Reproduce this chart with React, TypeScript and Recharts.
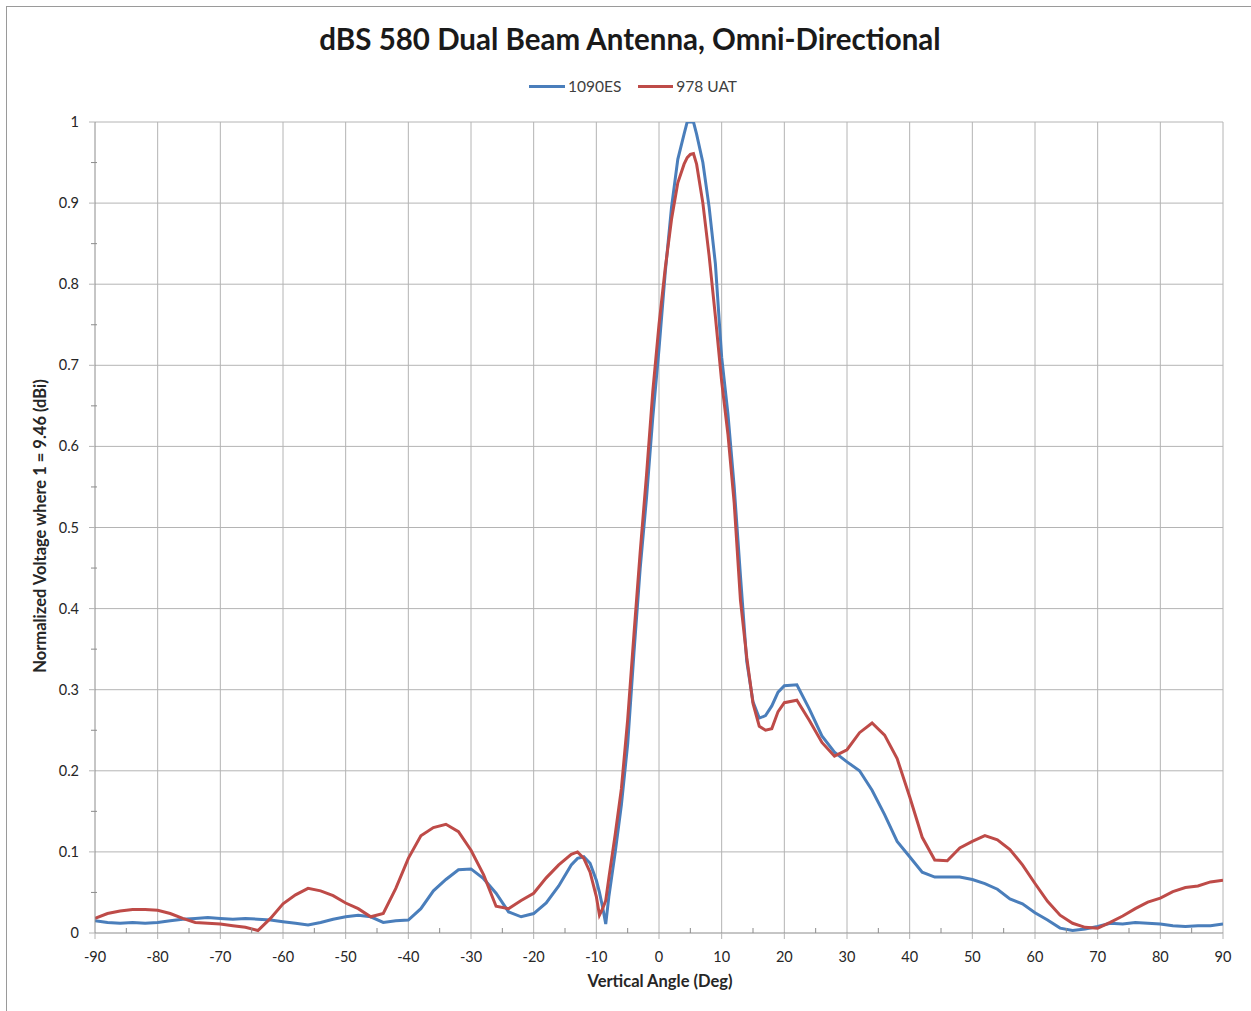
import React from "react";
import { LineChart, Line, XAxis, YAxis, CartesianGrid } from "recharts";

const angles = [
  -90, -88, -86, -84, -82, -80, -78, -76, -74, -72, -70, -68, -66, -64, -62, -60, -58, -56, -54, -52,
  -50, -48, -46, -44, -42, -40, -38, -36, -34, -32, -30, -28, -26, -24, -22, -20, -18, -16, -14,
  -13, -12, -11, -10, -9.5, -9, -8.5, -8,
  -7, -6, -5, -4, -3, -2, -1, 0, 1, 2, 3, 4, 4.5, 5, 5.5, 6, 7, 8, 9, 10, 11, 12, 13, 14, 15, 16, 17, 18, 19, 20,
  22, 24, 26, 28, 30, 32, 34, 36, 38, 40, 42, 44, 46, 48, 50, 52, 54, 56, 58, 60, 62, 64, 66, 68, 70,
  72, 74, 76, 78, 80, 82, 84, 86, 88, 90,
];

const es1090 = [
  0.015, 0.013, 0.012, 0.013, 0.012, 0.013, 0.015, 0.017, 0.018, 0.019, 0.018, 0.017, 0.018, 0.017, 0.016, 0.014, 0.012, 0.010, 0.013, 0.017,
  0.020, 0.022, 0.020, 0.013, 0.015, 0.016, 0.030, 0.052, 0.066, 0.078, 0.079, 0.067, 0.049, 0.026, 0.020, 0.024, 0.037, 0.058, 0.084,
  0.092, 0.094, 0.086, 0.065, 0.05, 0.032, 0.011, 0.045,
  0.099, 0.158, 0.233, 0.345, 0.45, 0.536, 0.635, 0.72, 0.815, 0.895, 0.954, 0.985, 1.0, 1.0, 1.0, 0.985, 0.95, 0.895, 0.825, 0.71, 0.64, 0.55, 0.44, 0.335, 0.285, 0.265, 0.268, 0.28, 0.297, 0.305,
  0.306, 0.276, 0.243, 0.223, 0.211, 0.2, 0.176, 0.146, 0.113, 0.094, 0.075, 0.069, 0.069, 0.069, 0.066, 0.061, 0.054, 0.042, 0.036, 0.025, 0.016, 0.006, 0.003, 0.005, 0.008,
  0.012, 0.011, 0.013, 0.012, 0.011, 0.009, 0.008, 0.009, 0.009, 0.011,
];

const uat978 = [
  0.018, 0.024, 0.027, 0.029, 0.029, 0.028, 0.024, 0.018, 0.013, 0.012, 0.011, 0.009, 0.007, 0.003, 0.018, 0.036, 0.047, 0.055, 0.052, 0.046,
  0.037, 0.030, 0.020, 0.024, 0.055, 0.092, 0.120, 0.130, 0.134, 0.125, 0.102, 0.072, 0.033, 0.030, 0.040, 0.049, 0.068, 0.084, 0.097,
  0.100, 0.092, 0.075, 0.045, 0.022, 0.030, 0.040, 0.068,
  0.121, 0.178, 0.263, 0.368, 0.47, 0.564, 0.667, 0.75, 0.82, 0.88, 0.925, 0.948, 0.956, 0.96, 0.961, 0.948, 0.9, 0.835, 0.76, 0.68, 0.615, 0.53, 0.41, 0.34, 0.283, 0.255, 0.25, 0.252, 0.273, 0.284,
  0.287, 0.262, 0.235, 0.218, 0.226, 0.247, 0.259, 0.244, 0.215, 0.168, 0.118, 0.09, 0.089, 0.105, 0.113, 0.12, 0.115, 0.103, 0.084, 0.061, 0.039, 0.022, 0.012, 0.007, 0.006,
  0.013, 0.021, 0.03, 0.038, 0.043, 0.051, 0.056, 0.058, 0.063, 0.065,
];

const xTicks = [
  -90, -85, -80, -75, -70, -65, -60, -55, -50, -45, -40, -35, -30, -25, -20, -15, -10, -5, 0,
  5, 10, 15, 20, 25, 30, 35, 40, 45, 50, 55, 60, 65, 70, 75, 80, 85, 90,
];
const xGrid = [-80, -70, -60, -50, -40, -30, -20, -10, 0, 10, 20, 30, 40, 50, 60, 70, 80, 90];
const yTicks = [0, 0.05, 0.1, 0.15, 0.2, 0.25, 0.3, 0.35, 0.4, 0.45, 0.5, 0.55, 0.6, 0.65, 0.7, 0.75, 0.8, 0.85, 0.9, 0.95, 1];
const yGrid = [0.1, 0.2, 0.3, 0.4, 0.5, 0.6, 0.7, 0.8, 0.9, 1];

const data = angles.map((a, i) => ({ angle: a, es: es1090[i], uat: uat978[i] }));

const BLUE = "#4a7ebb";
const RED = "#be4b48";
const GRID = "#b4b4b4";
const AXIS = "#8c8c8c";
const FONT = "Lato, 'Liberation Sans', sans-serif";
const TXT = "#262626";

const XTick = (props: any) => {
  const { x, y, payload } = props;
  const v = payload.value;
  const major = Math.abs(v % 10) < 1e-9;
  return (
    <g>
      {major ? (
        <line x1={x} x2={x} y1={y} y2={y + 6} stroke={GRID} strokeWidth={1} />
      ) : (
        <line x1={x} x2={x} y1={y} y2={y - 5} stroke={AXIS} strokeWidth={1} />
      )}
      {major && (
        <text x={x} y={y + 29} textAnchor="middle" fontSize={14.5} fontFamily={FONT} fill={TXT}>
          {v}
        </text>
      )}
    </g>
  );
};

const YTick = (props: any) => {
  const { x, y, payload } = props;
  const v = payload.value;
  const major = Math.round(v * 100) % 10 === 0;
  const label = v === 0 ? "0" : v === 1 ? "1" : v.toFixed(1);
  return (
    <g>
      {major ? (
        <line x1={x - 6} x2={x} y1={y} y2={y} stroke={GRID} strokeWidth={1} />
      ) : (
        <line x1={x - 4} x2={x + 2} y1={y} y2={y} stroke={AXIS} strokeWidth={1} />
      )}
      {major && (
        <text x={x - 16} y={y + 5} textAnchor="end" fontSize={14.5} fontFamily={FONT} fill={TXT}>
          {label}
        </text>
      )}
    </g>
  );
};

export default function App() {
  return (
    <div style={{ position: "absolute", left: 0, top: 0, width: 1251, height: 1011, background: "#fff", overflow: "hidden", fontFamily: FONT }}>
      <div style={{ position: "absolute", left: 6, top: 6, width: 1250, height: 1010, borderLeft: "1px solid #9a9a9a", borderTop: "1px solid #9a9a9a" }} />
      <div style={{ position: "absolute", left: 0, top: 21, width: 1260, textAlign: "center", fontSize: 29.5, fontWeight: 700, color: "#1a1a1a" }}>
        dBS 580 Dual Beam Antenna, Omni-Directional
      </div>
      <div style={{ position: "absolute", left: 529, top: 77, display: "flex", alignItems: "center", fontSize: 15.5, color: "#404040" }}>
        <span style={{ display: "inline-block", width: 36, height: 3, background: BLUE, marginRight: 3 }} />
        <span style={{ marginRight: 17 }}>1090ES</span>
        <span style={{ display: "inline-block", width: 35, height: 3, background: RED, marginRight: 3 }} />
        <span>978 UAT</span>
      </div>
      <div style={{ position: "absolute", left: 560, top: 971, width: 200, textAlign: "center", fontSize: 16.5, fontWeight: 700, color: TXT }}>
        Vertical Angle (Deg)
      </div>
      <div style={{ position: "absolute", left: 40, top: 527, width: 0, height: 0 }}>
        <div style={{ position: "absolute", left: -200, top: -11, width: 400, textAlign: "center", fontSize: 16.5, fontWeight: 700, color: TXT, transform: "rotate(-90deg)", whiteSpace: "nowrap" }}>
          Normalized Voltage where 1 = 9.46 (dBi)
        </div>
      </div>
      <div style={{ position: "absolute", left: 0, top: 0 }}>
        <LineChart width={1251} height={1011} data={data} margin={{ top: 122, right: 28, bottom: 18, left: 35 }}>
          <CartesianGrid stroke={GRID} strokeWidth={1} verticalValues={xGrid} horizontalValues={yGrid} />
          <XAxis
            type="number"
            dataKey="angle"
            domain={[-90, 90]}
            ticks={xTicks}
            interval={0}
            tickSize={0}
            tickMargin={0}
            tickLine={false}
            tick={<XTick />}
            axisLine={{ stroke: AXIS }}
            height={60}
            allowDataOverflow
          />
          <YAxis
            type="number"
            domain={[0, 1]}
            ticks={yTicks}
            interval={0}
            tickSize={0}
            tickMargin={0}
            tickLine={false}
            tick={<YTick />}
            axisLine={{ stroke: AXIS }}
            width={60}
            allowDataOverflow
          />
          <Line type="linear" dataKey="es" stroke={BLUE} strokeWidth={3} dot={false} isAnimationActive={false} />
          <Line type="linear" dataKey="uat" stroke={RED} strokeWidth={3} dot={false} isAnimationActive={false} />
        </LineChart>
      </div>
    </div>
  );
}
